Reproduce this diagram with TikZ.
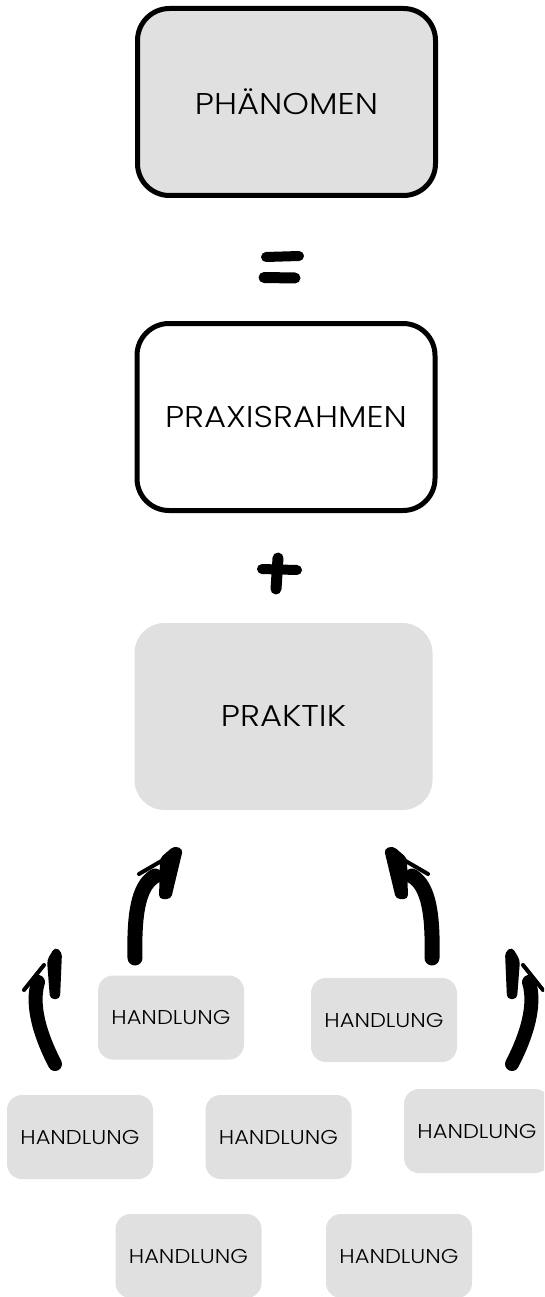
\documentclass[tikz,border=0pt]{standalone}
\usepackage{fontspec}
\IfFontExistsTF{Poppins Light}{\setmainfont{Poppins Light}[FakeStretch=1.13]}{\setmainfont{Poppins}[FakeStretch=1.13]}
\definecolor{boxgray}{RGB}{224,224,224}
\tikzset{
  bigbox/.style={rounded corners=32pt, minimum width=298pt, minimum height=187pt, inner sep=0pt, font=\fontsize{30}{33}\selectfont},
  framed/.style={draw=black, line width=5pt},
  hbox/.style={fill=boxgray, rounded corners=15pt, minimum width=146pt, minimum height=84pt, inner sep=0pt, font=\fontsize{20}{23}\selectfont},
  brush/.style={draw=black, line cap=round, line join=round},
  pics/upA/.style={code={
    \draw[brush, line width=15pt] (135,958) .. controls (134,915) and (138,886) .. (155,876);
    \draw[brush, line width=4pt] (139,874) -- (170,856);
    \fill[black, rounded corners=4pt] (160,858) -- (174,846) -- (183,849) -- (171,899) -- (159,899) -- cycle;
  }},
  pics/upC/.style={code={
    \draw[brush, line width=14pt] (55,1064) .. controls (40,1035) and (31,1005) .. (38,982);
    \draw[brush, line width=4pt] (24,990) -- (44,965);
    \fill[black, rounded corners=4pt] (47,960) -- (55,947) -- (62,952) -- (60,999) -- (50,999) -- cycle;
  }}
}
\begin{document}
\begin{tikzpicture}[x=1pt,y=-1pt]
\clip (0,0) rectangle (544,1297);
\useasboundingbox (0,0) rectangle (544,1297);
% main boxes
\node[bigbox, framed, fill=boxgray] (phen) at (286.5,102) {PHÄNOMEN};
\node[bigbox, framed, fill=white] (rahmen) at (286,417) {PRAXISRAHMEN};
\node[bigbox, fill=boxgray, rounded corners=30pt] (praktik) at (283.5,716.5) {PRAKTIK};
% equals sign
\draw[brush, line width=10pt] (266,257) -- (299,256);
\draw[brush, line width=11pt] (264,277.5) -- (295,278);
% plus sign
\draw[brush, line width=11pt] (278,558) -- (276,589);
\draw[brush, line width=10pt] (262,569) -- (297,570);
% arrows
\pic at (0,0) {upA};
\pic[xscale=-1] at (567,0) {upA};
\pic at (0,0) {upC};
\pic[xscale=-1] at (567,0) {upC};
% Handlung boxes
\node[hbox] (h1) at (171,1017.5) {HANDLUNG};
\node[hbox] (h2) at (384,1020) {HANDLUNG};
\node[hbox] (h3) at (80,1137) {HANDLUNG};
\node[hbox] (h4) at (278.5,1137) {HANDLUNG};
\node[hbox] (h5) at (477,1131) {HANDLUNG};
\node[hbox] (h6) at (188.5,1256) {HANDLUNG};
\node[hbox] (h7) at (399,1256) {HANDLUNG};
\end{tikzpicture}
\end{document}
